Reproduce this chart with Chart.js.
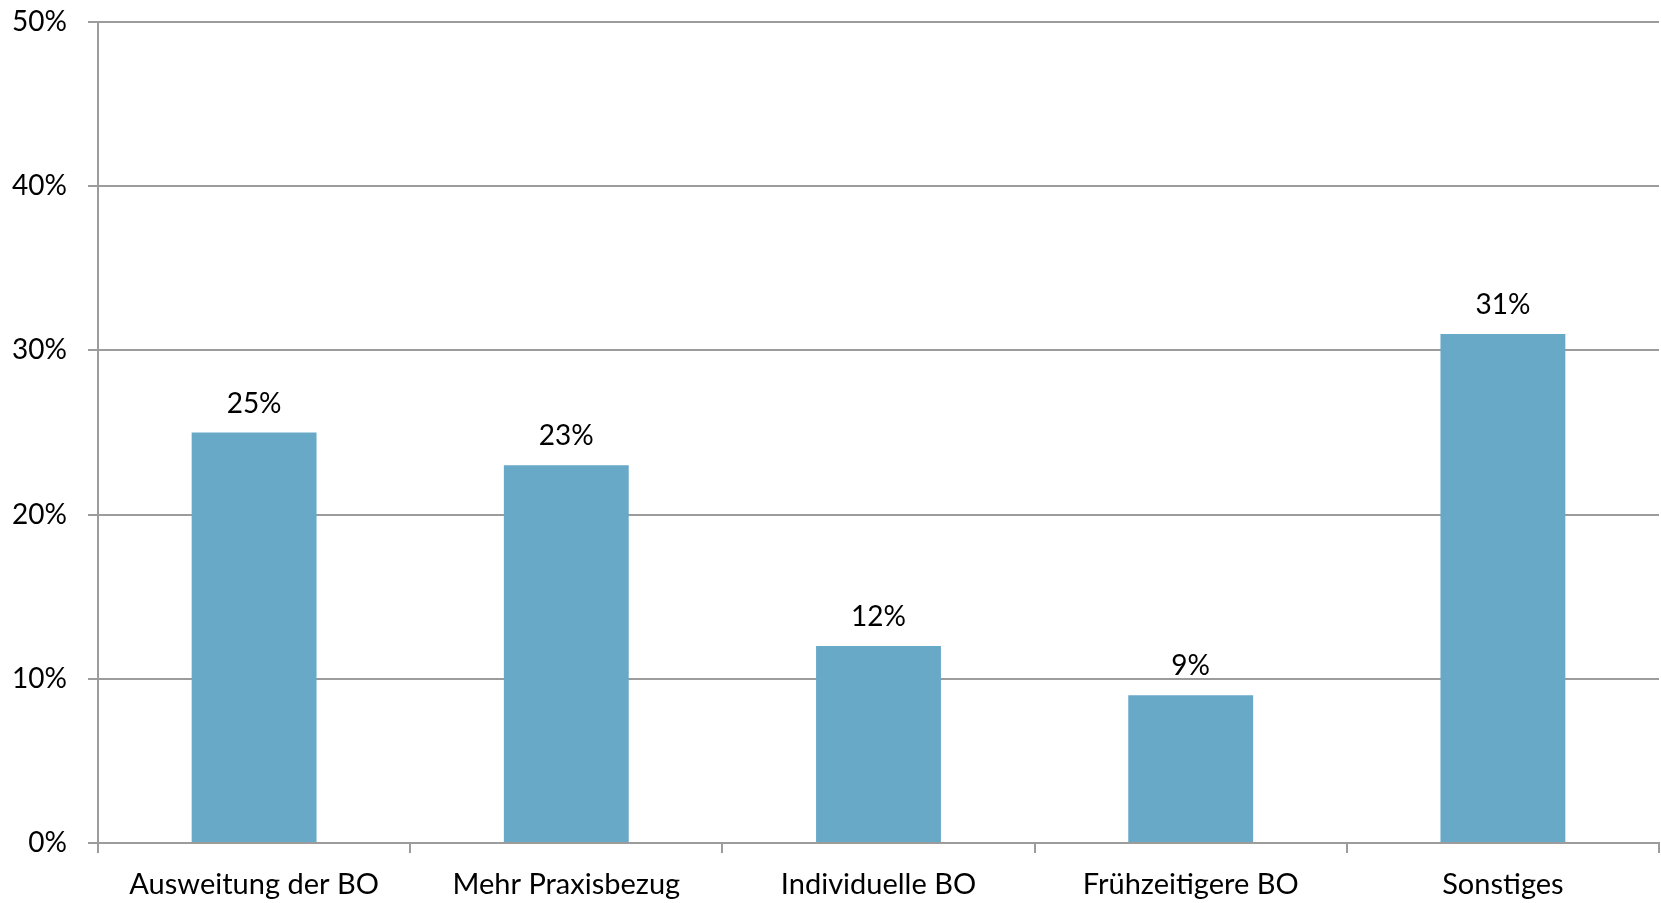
<!DOCTYPE html>
<html>
<head>
<meta charset="utf-8">
<script src="https://cdn.jsdelivr.net/npm/chart.js@4/dist/chart.umd.min.js"></script>
<style>
  html, body { margin: 0; padding: 0; background: #ffffff; }
  #wrap { width: 1661px; height: 903px; position: relative; }
</style>
</head>
<body>
<div id="wrap"><canvas id="c" width="1661" height="903"></canvas></div>
<script>
// Bereiche für mehr Berufsorientierung (Anteile in Prozent)
const categories = ['Ausweitung der BO', 'Mehr Praxisbezug', 'Individuelle BO', 'Frühzeitigere BO', 'Sonstiges'];
const shares = [25, 23, 12, 9, 31];
const yTicks = [0, 10, 20, 30, 40, 50];

const FONT = "Lato, 'Open Sans', sans-serif";
const GRID = '#9c9c9c';

// Wertbeschriftung über jedem Balken
const valueLabels = {
  id: 'valueLabels',
  afterDatasetsDraw(chart) {
    const ctx = chart.ctx;
    const meta = chart.getDatasetMeta(0);
    ctx.save();
    ctx.fillStyle = '#000000';
    ctx.font = '28px ' + FONT;
    ctx.textAlign = 'center';
    ctx.textBaseline = 'alphabetic';
    meta.data.forEach((bar, i) => {
      ctx.fillText(chart.data.datasets[0].data[i] + '%', bar.x, bar.y - 20);
    });
    ctx.restore();
  }
};

new Chart(document.getElementById('c'), {
  type: 'bar',
  data: {
    labels: categories,
    datasets: [{
      data: shares,
      backgroundColor: '#69a9c8',
      borderWidth: 0,
      categoryPercentage: 0.4,
      barPercentage: 1.0
    }]
  },
  options: {
    responsive: false,
    animation: false,
    devicePixelRatio: 1,
    layout: { padding: { top: 22, right: 2, left: 0, bottom: 0 } },
    plugins: {
      legend: { display: false },
      tooltip: { enabled: false }
    },
    scales: {
      x: {
        grid: {
          display: true,
          drawOnChartArea: false,
          drawTicks: true,
          tickLength: 10,
          color: GRID,
          lineWidth: 2
        },
        border: { display: true, color: GRID, width: 2 },
        ticks: {
          color: '#000000',
          font: { family: FONT, size: 29 },
          padding: 14,
          maxRotation: 0,
          autoSkip: false
        },
        afterFit(scale) {
          scale.height = 60;
          scale.paddingLeft = 0;
          scale.paddingRight = 0;
        }
      },
      y: {
        min: 0,
        max: 50,
        afterBuildTicks(scale) { scale.ticks = yTicks.map(v => ({ value: v })); },
        grid: {
          color: GRID,
          lineWidth: 2,
          drawTicks: true,
          tickLength: 10
        },
        border: { display: true, color: GRID, width: 2 },
        ticks: {
          color: '#000000',
          font: { family: FONT, size: 28 },
          padding: 21,
          callback: v => v + '%'
        },
        afterFit(scale) {
          scale.width = 98;
          scale.paddingTop = 0;
          scale.paddingBottom = 0;
        }
      }
    }
  },
  plugins: [valueLabels]
});
</script>
</body>
</html>
